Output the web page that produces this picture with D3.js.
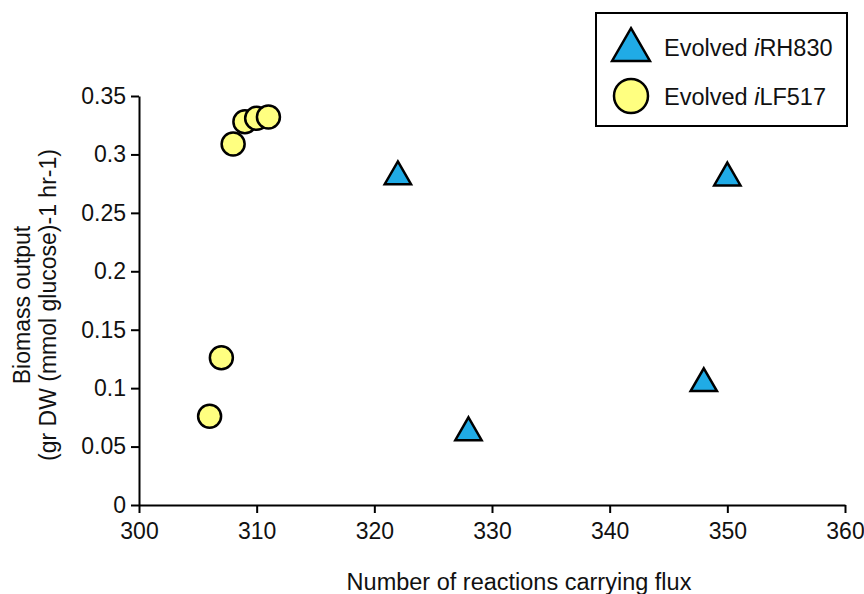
<!DOCTYPE html>
<html>
<head>
<meta charset="utf-8">
<script src="https://cdn.jsdelivr.net/npm/d3@7"></script>
<style>
  html, body { margin: 0; padding: 0; background: #fff; }
  svg text { font-family: "Liberation Sans", Arial, Helvetica, sans-serif; fill: #111; }
</style>
</head>
<body>
<svg id="chart" width="864" height="594"></svg>
<script>
// Evolved iRH830 strains: reactions carrying flux vs biomass output
const rhReactions = [322, 328, 348, 350];
const rhBiomass   = [0.281, 0.062, 0.104, 0.280];

// Evolved iLF517 strains
const lfReactions = [306, 307, 308, 309, 310, 311];
const lfBiomass   = [0.076, 0.126, 0.309, 0.328, 0.331, 0.332];

const xTicks = [300, 310, 320, 330, 340, 350, 360];
const yTicks = [0, 0.05, 0.1, 0.15, 0.2, 0.25, 0.3, 0.35];

const seriesNames = ["Evolved ", "RH830", "LF517"];

const svg = d3.select("#chart");
const plotLeft = 139, plotRight = 845, plotTop = 96, plotBottom = 505;

const x = d3.scaleLinear().domain([300, 360]).range([plotLeft, plotRight]);
const y = d3.scaleLinear().domain([0, 0.35]).range([plotBottom, plotTop]);

// Axes
const xAxis = svg.append("g")
  .attr("transform", `translate(0,${plotBottom})`)
  .call(d3.axisBottom(x).tickValues(xTicks).tickFormat(d3.format("d")).tickSize(8).tickSizeOuter(0));
const yAxis = svg.append("g")
  .attr("transform", `translate(${plotLeft},0)`)
  .call(d3.axisLeft(y).tickValues(yTicks).tickFormat(d => d === 0 ? "0" : String(d)).tickSize(8).tickSizeOuter(0));

[xAxis, yAxis].forEach(g => {
  g.select(".domain").attr("stroke", "#000").attr("stroke-width", 2);
  g.selectAll(".tick line").attr("stroke", "#000").attr("stroke-width", 2);
  g.selectAll(".tick text").attr("font-size", 23).attr("font-family", "Liberation Sans, Arial, sans-serif").attr("fill", "#111");
});
xAxis.selectAll(".tick text").attr("dy", "1.0em");
yAxis.selectAll(".tick text").attr("x", -13);

// Axis titles
svg.append("text")
  .attr("x", 519).attr("y", 590)
  .attr("text-anchor", "middle").attr("font-size", 23.5)
  .text("Number of reactions carrying flux");

const yt = svg.append("g").attr("transform", `translate(0,305) rotate(-90)`);
yt.append("text").attr("x", 0).attr("y", 30).attr("text-anchor", "middle").attr("font-size", 23)
  .text("Biomass output");
yt.append("text").attr("x", 0).attr("y", 56).attr("text-anchor", "middle").attr("font-size", 23)
  .text("(gr DW (mmol glucose)-1 hr-1)");

const triFill = "#20abe6", circFill = "#ffff80";
const tri = d3.symbol().type(d3.symbolTriangle).size(300);

// iRH830 triangles
svg.append("g").selectAll("path")
  .data(rhReactions.map((r, i) => [r, rhBiomass[i]]))
  .join("path")
  .attr("d", tri)
  .attr("transform", d => `translate(${x(d[0])},${y(d[1])})`)
  .attr("fill", triFill).attr("stroke", "#000").attr("stroke-width", 2.5).attr("stroke-linejoin", "miter");

// iLF517 circles
svg.append("g").selectAll("circle")
  .data(lfReactions.map((r, i) => [r, lfBiomass[i]]))
  .join("circle")
  .attr("cx", d => x(d[0])).attr("cy", d => y(d[1])).attr("r", 11.5)
  .attr("fill", circFill).attr("stroke", "#000").attr("stroke-width", 2.5);

// Legend
const lg = svg.append("g");
lg.append("rect").attr("x", 596).attr("y", 13).attr("width", 251).attr("height", 113)
  .attr("fill", "#fff").attr("stroke", "#000").attr("stroke-width", 2);
lg.append("path").attr("d", d3.symbol().type(d3.symbolTriangle).size(620))
  .attr("transform", "translate(631,50)")
  .attr("fill", triFill).attr("stroke", "#000").attr("stroke-width", 2.5);
lg.append("circle").attr("cx", 631).attr("cy", 96).attr("r", 17)
  .attr("fill", circFill).attr("stroke", "#000").attr("stroke-width", 2.5);
const t1 = lg.append("text").attr("x", 664).attr("y", 56).attr("font-size", 23.5);
t1.append("tspan").text(seriesNames[0]);
t1.append("tspan").attr("font-style", "italic").text("i");
t1.append("tspan").text(seriesNames[1]);
const t2 = lg.append("text").attr("x", 664).attr("y", 105).attr("font-size", 23.5);
t2.append("tspan").text(seriesNames[0]);
t2.append("tspan").attr("font-style", "italic").text("i");
t2.append("tspan").text(seriesNames[2]);
</script>
</body>
</html>
